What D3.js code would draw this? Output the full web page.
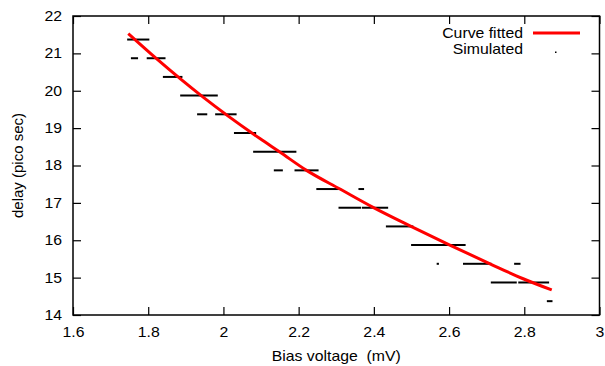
<!DOCTYPE html>
<html>
<head>
<meta charset="utf-8">
<script src="https://cdn.jsdelivr.net/npm/d3@7"></script>
<style>
  body { margin: 0; background: #fff; }
  svg text { font-family: "Liberation Sans", Arial, sans-serif; fill: #000; white-space: pre; }
</style>
</head>
<body>
<div id="chart"></div>
<script>
// fitted curve
const fitX = [1.747, 1.822, 1.946, 2.097, 2.150, 2.221, 2.310, 2.398, 2.496, 2.602, 2.709, 2.797, 2.873];
const fitY = [21.53, 20.86, 19.83, 18.72, 18.36, 17.87, 17.37, 16.88, 16.385, 15.87, 15.37, 14.97, 14.67];

// simulated points appear as runs of constant delay (start voltage, end voltage, delay)
const simStart = [1.744, 1.754, 1.796, 1.839, 1.885, 1.930, 1.978, 2.028, 2.079, 2.134, 2.189, 2.247, 2.359,
                  2.306, 2.368, 2.432, 2.499, 2.567, 2.637, 2.773, 2.711, 2.784, 2.860];
const simEnd   = [1.803, 1.773, 1.846, 1.891, 1.985, 1.957, 2.035, 2.087, 2.194, 2.158, 2.253, 2.313, 2.374,
                  2.366, 2.438, 2.505, 2.644, 2.573, 2.713, 2.790, 2.780, 2.866, 2.875];
const simDelay = [21.37, 20.87, 20.87, 20.37, 19.87, 19.37, 19.37, 18.87, 18.37, 17.87, 17.87, 17.37, 17.37,
                  16.87, 16.87, 16.37, 15.87, 15.37, 15.37, 15.37, 14.87, 14.87, 14.37];

const xTicks = [1.6, 1.8, 2.0, 2.2, 2.4, 2.6, 2.8, 3.0];
const yTicks = [14, 15, 16, 17, 18, 19, 20, 21, 22];

const W = 605, H = 366;
const margin = { top: 16, right: 5.5, bottom: 51, left: 73 };
const width = W - margin.left - margin.right;
const height = H - margin.top - margin.bottom;
const stretch = 1.13; // text in the picture is a bit wider than it is tall

const svg = d3.select("#chart").append("svg")
    .attr("width", W)
    .attr("height", H);

const g = svg.append("g")
    .attr("transform", `translate(${margin.left},${margin.top})`);

const x = d3.scaleLinear().domain([1.6, 3.0]).range([0, width]);
const y = d3.scaleLinear().domain([14, 22]).range([height, 0]);

// axes with inward ticks, mirrored on top and right
const fmt = d => d3.format("")(+d.toFixed(1));

g.append("g")
    .attr("transform", `translate(0,${height})`)
    .call(d3.axisBottom(x).tickValues(xTicks).tickSizeInner(-8).tickSizeOuter(0).tickPadding(12).tickFormat(fmt))
    .call(a => a.select(".domain").remove());

g.append("g")
    .call(d3.axisTop(x).tickValues(xTicks).tickSizeInner(-8).tickSizeOuter(0).tickFormat(""))
    .call(a => a.select(".domain").remove());

g.append("g")
    .call(d3.axisLeft(y).tickValues(yTicks).tickSizeInner(-8).tickSizeOuter(0).tickPadding(11 / stretch))
    .call(a => a.select(".domain").remove());

g.append("g")
    .attr("transform", `translate(${width},0)`)
    .call(d3.axisRight(y).tickValues(yTicks).tickSizeInner(-8).tickSizeOuter(0).tickFormat(""))
    .call(a => a.select(".domain").remove());

g.selectAll(".tick line").attr("stroke", "#000").attr("stroke-width", 1.2);
g.selectAll(".tick text")
    .style("font-size", "14px")
    .attr("transform", `scale(${stretch},1)`);

g.append("rect")
    .attr("width", width)
    .attr("height", height)
    .attr("fill", "none")
    .attr("stroke", "#000")
    .attr("stroke-width", 1.5);

// simulated runs
const sim = simStart.map((s, i) => ({ s, e: simEnd[i], d: simDelay[i] }));
g.selectAll(".sim")
    .data(sim)
    .enter().append("line")
    .attr("class", "sim")
    .attr("x1", d => x(d.s))
    .attr("x2", d => x(d.e))
    .attr("y1", d => y(d.d))
    .attr("y2", d => y(d.d))
    .attr("stroke", "#000")
    .attr("stroke-width", 2);

// fitted curve
const fit = fitX.map((v, i) => [v, fitY[i]]);
g.append("path")
    .datum(fit)
    .attr("fill", "none")
    .attr("stroke", "#ff0000")
    .attr("stroke-width", 3)
    .attr("d", d3.line().x(d => x(d[0])).y(d => y(d[1])).curve(d3.curveMonotoneX));

// legend
const legend = svg.append("g");
legend.append("text")
    .attr("transform", `translate(523,33) scale(${stretch},1)`)
    .attr("dy", "0.35em")
    .attr("text-anchor", "end")
    .style("font-size", "14px")
    .text("Curve fitted");
legend.append("line")
    .attr("x1", 533).attr("x2", 580)
    .attr("y1", 33).attr("y2", 33)
    .attr("stroke", "#ff0000").attr("stroke-width", 3);
legend.append("text")
    .attr("transform", `translate(523,49.5) scale(${stretch},1)`)
    .attr("dy", "0.35em")
    .attr("text-anchor", "end")
    .style("font-size", "14px")
    .text("Simulated");
legend.append("rect")
    .attr("x", 555).attr("y", 51.5)
    .attr("width", 1.5).attr("height", 1.5)
    .attr("fill", "#000");

// axis titles
svg.append("text")
    .attr("transform", `translate(${margin.left + width / 2},356) scale(${stretch},1)`)
    .attr("dy", "0.35em")
    .attr("text-anchor", "middle")
    .style("font-size", "14px")
    .text("Bias voltage  (mV)");

svg.append("text")
    .attr("transform", `translate(18,${margin.top + height / 2}) rotate(-90)`)
    .attr("dy", "0.35em")
    .attr("text-anchor", "middle")
    .style("font-size", "15px")
    .text("delay (pico sec)");
</script>
</body>
</html>
